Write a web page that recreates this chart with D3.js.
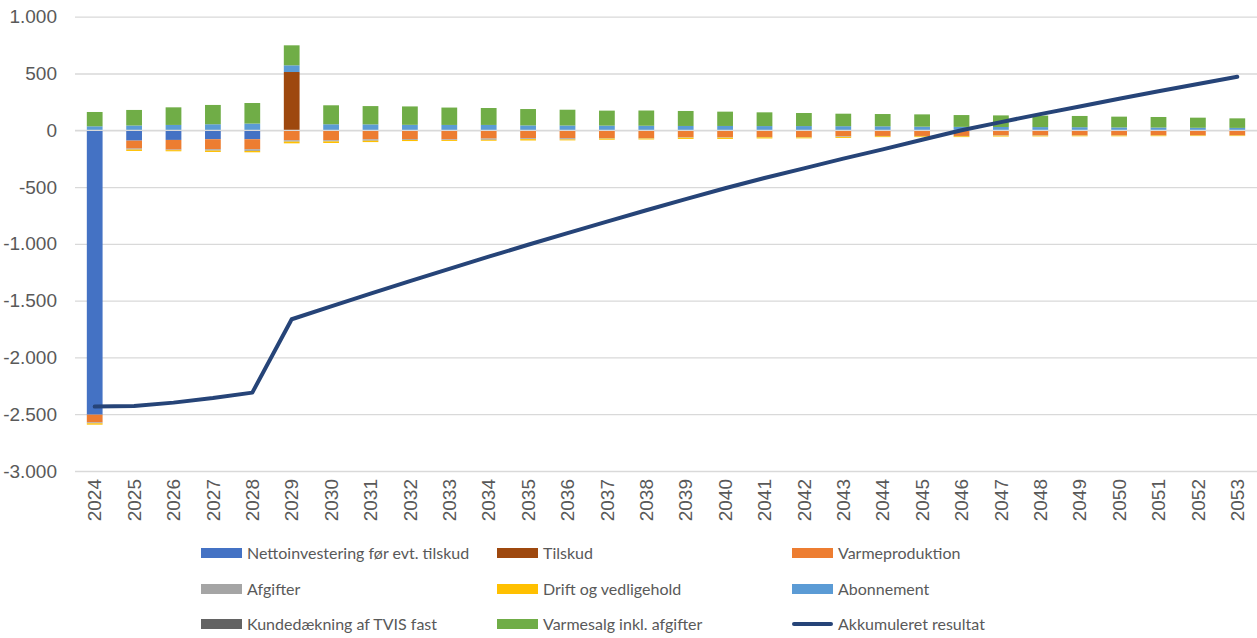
<!DOCTYPE html>
<html>
<head>
<meta charset="utf-8">
<script src="https://cdn.jsdelivr.net/npm/d3@7"></script>
<style>
  html, body { margin: 0; padding: 0; background: #fff; }
  svg { display: block; font-family: Lato, "Open Sans", sans-serif; }
</style>
</head>
<body>
<svg id="chart" width="1257" height="638"></svg>
<script>
// Years on the category axis
const years = d3.range(2024, 2054).map(String);

// Yearly cash flows per component
const nettoinvestering = [-2504, -91, -85, -79, -79, 0, 0, 0, 0, 0, 0, 0, 0, 0, 0, 0, 0, 0, 0, 0, 0, 0, 0, 0, 0, 0, 0, 0, 0, 0];
const tilskud = [0, 0, 0, 0, 0, 513, 0, 0, 0, 0, 0, 0, 0, 0, 0, 0, 0, 0, 0, 0, 0, 0, 0, 0, 0, 0, 0, 0, 0, 0];
const varmeproduktion = [-68, -70, -85, -88, -88, -88, -88, -80, -77, -80, -73, -70, -70, -68, -70, -62, -62, -59, -60, -53, -50, -50, -50, -45, -45, -45, -45, -44, -44, -44];
const afgifter = [-8, -9, -5, -12, -15, -12, -10, -12, -8, -6, -11, -8, -11, -5, -3, -3, -3, -3, -3, -5, -3, -3, -3, -3, -3, -2, -2, -2, -2, -2];
const drift = [-12, -12, -10, -12, -12, -15, -14, -12, -10, -8, -8, -12, -8, -10, -8, -11, -11, -10, -8, -9, -7, -7, -7, -7, -6, -6, -6, -6, -5, -5];
const abonnement = [35, 42, 47, 53, 59, 59, 53, 52, 48, 47, 47, 43, 42, 41, 40, 38, 38, 37, 37, 36, 35, 32, 30, 29, 28, 27, 25, 24, 22, 21];
const kundedaekning = [0, 0, 0, 0, 0, 0, 0, 0, 0, 0, 0, 0, 0, 0, 0, 0, 0, 0, 0, 0, 0, 0, 0, 0, 0, 0, 0, 0, 0, 0];
const varmesalg = [126, 137, 155, 170, 181, 176, 167, 161, 162, 153, 149, 144, 139, 132, 134, 132, 126, 121, 115, 110, 108, 108, 104, 102, 101, 99, 95, 93, 89, 84];

// Accumulated result
const akkumuleret = [-2433, -2428, -2398, -2358, -2310, -1664, -1550, -1438, -1328, -1220, -1113, -1008, -905, -804, -704, -606, -510, -420, -335, -250, -168, -84, 0, 72, 142, 210, 277, 343, 408, 471];

// Y-axis tick values
const yTicks = [1000, 500, 0, -500, -1000, -1500, -2000, -2500, -3000];

const seriesDefs = [
  { key: "Nettoinvestering før evt. tilskud", values: nettoinvestering, color: "#4472C4" },
  { key: "Tilskud", values: tilskud, color: "#9E480E" },
  { key: "Varmeproduktion", values: varmeproduktion, color: "#ED7D31" },
  { key: "Afgifter", values: afgifter, color: "#A5A5A5" },
  { key: "Drift og vedligehold", values: drift, color: "#FFC000" },
  { key: "Abonnement", values: abonnement, color: "#5B9BD5" },
  { key: "Kundedækning af TVIS fast", values: kundedaekning, color: "#636363" },
  { key: "Varmesalg inkl. afgifter", values: varmesalg, color: "#70AD47" }
];
const lineName = "Akkumuleret resultat";
const lineColor = "#264478";

const rows = years.map((y, i) => {
  const r = { year: y };
  seriesDefs.forEach(s => { r[s.key] = s.values[i]; });
  return r;
});

const svg = d3.select("#chart");
const x = d3.scaleBand().domain(years).range([75, 1257]).paddingInner(0.6).paddingOuter(0.3);
const y = d3.scaleLinear().domain([-3000, 1000]).range([471, 16.7]);

const locale = d3.formatLocale({ decimal: ",", thousands: ".", grouping: [3], currency: ["", " kr"], minus: "-" });
const fmt = locale.format(",.0f");

// Gridlines
const yAxis = d3.axisLeft(y).tickValues(yTicks).tickSize(-(1257 - 75)).tickFormat(fmt).tickPadding(18);
const gy = svg.append("g").attr("transform", "translate(75,0)").call(yAxis);
gy.select(".domain").remove();
gy.selectAll(".tick line").attr("stroke", "#D9D9D9").attr("stroke-width", 1.3);
gy.selectAll(".tick text").attr("fill", "#595959").style("font-size", "19px").attr("x", -18);

// Stacked bars (positives up, negatives down)
const stack = d3.stack().keys(seriesDefs.map(s => s.key)).offset(d3.stackOffsetDiverging);
const layers = stack(rows);
const colorOf = new Map(seriesDefs.map(s => [s.key, s.color]));

svg.append("g").selectAll("g").data(layers).join("g")
  .attr("fill", d => colorOf.get(d.key))
  .selectAll("rect").data(d => d).join("rect")
  .attr("x", d => x(d.data.year))
  .attr("width", x.bandwidth())
  .attr("y", d => y(Math.max(d[0], d[1])))
  .attr("height", d => Math.abs(y(d[0]) - y(d[1])));

// Category axis line at zero
svg.append("line")
  .attr("x1", 75).attr("x2", 1257)
  .attr("y1", y(0)).attr("y2", y(0))
  .attr("stroke", "#D9D9D9").attr("stroke-width", 1.3);

// Year labels below the plot
const xAxis = d3.axisBottom(x).tickSize(0).tickPadding(0);
const gx = svg.append("g").attr("transform", `translate(0,${y(-3000)})`).call(xAxis);
gx.select(".domain").remove();
gx.selectAll(".tick text")
  .attr("fill", "#595959")
  .style("font-size", "19px")
  .attr("transform", "translate(0,8) rotate(-90)")
  .attr("text-anchor", "end")
  .attr("x", 0).attr("y", 0).attr("dy", "0.35em");

// Accumulated result line
const line = d3.line()
  .x((d, i) => x(years[i]) + x.bandwidth() / 2)
  .y(d => y(d));
svg.append("path")
  .datum(akkumuleret)
  .attr("d", line)
  .attr("fill", "none")
  .attr("stroke", lineColor)
  .attr("stroke-width", 4)
  .attr("stroke-linecap", "round")
  .attr("stroke-linejoin", "round");

// Legend: three columns, three rows
const legendItems = seriesDefs.map(s => ({ name: s.key, color: s.color, type: "rect" }))
  .concat([{ name: lineName, color: lineColor, type: "line" }]);
const colX = [201, 497, 792];
const rowY = [553, 589, 624];
const lg = svg.append("g").selectAll("g").data(legendItems).join("g")
  .attr("transform", (d, i) => `translate(${colX[i % 3]},${rowY[Math.floor(i / 3)]})`);
lg.filter(d => d.type === "rect").append("rect")
  .attr("x", 0).attr("y", -5).attr("width", 41).attr("height", 10)
  .attr("fill", d => d.color);
lg.filter(d => d.type === "line").append("line")
  .attr("x1", 2).attr("x2", 39).attr("y1", 0).attr("y2", 0)
  .attr("stroke", d => d.color).attr("stroke-width", 4).attr("stroke-linecap", "round");
lg.append("text")
  .attr("x", 46).attr("y", 0).attr("dy", "0.35em")
  .attr("fill", "#595959")
  .style("font-size", "16px")
  .text(d => d.name);
</script>
</body>
</html>
